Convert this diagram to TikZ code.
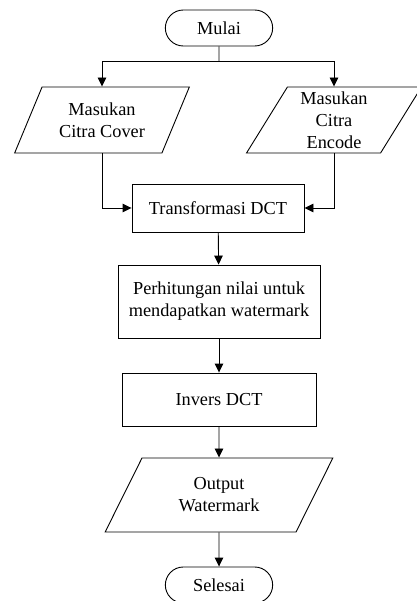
\documentclass[tikz,border=0pt]{standalone}
\usepackage{fontspec}
\setmainfont{Liberation Serif}
\usetikzlibrary{shapes.geometric, shapes.misc, arrows.meta}

\tikzset{
    terminal/.style={draw, rounded rectangle, minimum width=114pt, minimum height=36pt},
    proses/.style={draw, rectangle, align=center},
    io/.style={draw, trapezium, trapezium left angle=63, trapezium right angle=117,
        trapezium stretches=true, align=center},
    arr/.style={-{Triangle[length=9pt,width=8.5pt]}}
}

\begin{document}
\begin{tikzpicture}[x=1pt, y=-1pt, line width=0.9pt, font=\fontsize{18.3}{22}\selectfont]
        \useasboundingbox (0,0) rectangle (416,601);
        \node[terminal] (0) at (219,28) {Mulai};
        \coordinate (split) at (219,61);
        % input
        \node[io, minimum width=175pt, minimum height=66pt] (11) at (102,120) {Masukan\\Citra Cover};
        \node[io, minimum width=175pt, minimum height=66pt] (12) at (334,120) {Masukan\\Citra\\Encode};
        % proses
        \node[proses, minimum width=172pt, minimum height=48pt] (2) at (218,208) {Transformasi DCT};
        \node[proses, minimum width=202pt, minimum height=73pt] (3) at (219,301.5) {Perhitungan nilai untuk\\mendapatkan watermark};
        \node[proses, minimum width=194pt, minimum height=53pt] (4) at (219,399.5) {Invers DCT};
        % output
        \node[io, minimum width=228pt, minimum height=74pt] (5) at (219,495) {Output\\Watermark};
        \node[terminal] (6) at (219,585) {Selesai};

        % garis
        \draw (0) -- (split);
        \draw[arr] (split) -| (11);
        \draw[arr] (split) -| (12);
        \draw[arr] (11) |- (2);
        \draw[arr] (12) |- (2);
        \draw[arr] (2) -- (3);
        \draw[arr] (3) -- (4);
        \draw[arr] (4) -- (5);
        \draw[arr] (5) -- (6);
    \end{tikzpicture}
\end{document}
